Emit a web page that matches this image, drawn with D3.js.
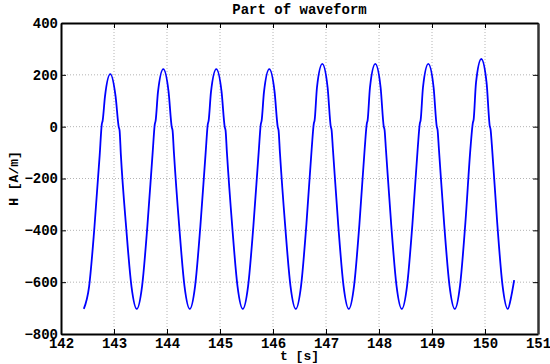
<!DOCTYPE html>
<html>
<head>
<meta charset="utf-8">
<script src="https://cdn.jsdelivr.net/npm/d3@7"></script>
<style>
  body { margin: 0; background: #fff; }
  svg { display: block; }
  text { font-family: "Liberation Mono", "DejaVu Sans Mono", monospace; font-weight: bold; fill: #000; }
</style>
</head>
<body>
<svg id="chart" width="550" height="364"></svg>
<script>
// samples, one line per period
const time = [
  142.43, 142.53, 142.63, 142.73, 142.77, 142.785, 142.83, 142.93, 143.03, 143.09, 143.105, 143.13, 143.23, 143.33,
  143.43, 143.53, 143.63, 143.73, 143.77, 143.785, 143.83, 143.93, 144.03, 144.09, 144.105, 144.13, 144.23, 144.33,
  144.43, 144.53, 144.63, 144.73, 144.77, 144.785, 144.83, 144.93, 145.03, 145.09, 145.105, 145.13, 145.23, 145.33,
  145.43, 145.53, 145.63, 145.73, 145.77, 145.785, 145.83, 145.93, 146.03, 146.09, 146.105, 146.13, 146.23, 146.33,
  146.43, 146.53, 146.63, 146.73, 146.77, 146.785, 146.83, 146.93, 147.03, 147.09, 147.105, 147.13, 147.23, 147.33,
  147.43, 147.53, 147.63, 147.73, 147.77, 147.785, 147.83, 147.93, 148.03, 148.09, 148.105, 148.13, 148.23, 148.33,
  148.43, 148.53, 148.63, 148.73, 148.77, 148.785, 148.83, 148.93, 149.03, 149.09, 149.105, 149.13, 149.23, 149.33,
  149.43, 149.53, 149.63, 149.73, 149.77, 149.785, 149.83, 149.93, 150.03, 150.09, 150.105, 150.13, 150.23, 150.33,
  150.43, 150.50, 150.55
];
const field = [
  -703, -617, -390, -110, 10, 22, 117, 203, 117, -2, -14, -110, -390, -617,
  -703, -615, -383,  -98, 10, 22, 134, 222, 134, -2, -14,  -98, -383, -615,
  -703, -615, -383,  -98, 10, 22, 134, 222, 134, -2, -14,  -98, -383, -615,
  -703, -615, -383,  -98, 10, 22, 134, 222, 134, -2, -14,  -98, -383, -615,
  -703, -613, -377,  -85, 12, 24, 152, 242, 152,  0, -12,  -85, -377, -613,
  -703, -613, -377,  -85, 12, 24, 152, 242, 152,  0, -12,  -85, -377, -613,
  -703, -613, -377,  -85, 12, 24, 152, 242, 152,  0, -12,  -85, -377, -613,
  -703, -611, -370,  -72, 14, 26, 169, 261, 169,  2, -10,  -72, -370, -611,
  -703, -650, -592
];
const xTicks = [142, 143, 144, 145, 146, 147, 148, 149, 150, 151];
const yTicks = [-800, -600, -400, -200, 0, 200, 400];

var svg = d3.select("#chart");
const margin = {top: 23, right: 12, bottom: 30, left: 61};
const width  = +svg.attr("width") - margin.left - margin.right;
const height = +svg.attr("height") - margin.top - margin.bottom;

var x = d3.scaleLinear().domain([142, 151]).range([0, width]);
var y = d3.scaleLinear().domain([-800, 400]).range([height, 0]);

var g = svg.append("g")
  .attr("transform", "translate(" + margin.left + "," + margin.top + ")");

// dotted grid
g.append("g").selectAll("line").data(xTicks.slice(1, -1)).join("line")
  .attr("x1", d => x(d)).attr("x2", d => x(d))
  .attr("y1", 0).attr("y2", height)
  .attr("stroke", "#b4b4b4").attr("stroke-dasharray", "1,2");
g.append("g").selectAll("line").data(yTicks.slice(1, -1)).join("line")
  .attr("x1", 0).attr("x2", width)
  .attr("y1", d => y(d)).attr("y2", d => y(d))
  .attr("stroke", "#b4b4b4").attr("stroke-dasharray", "1,2");

// waveform
var line = d3.line()
  .x((d, i) => x(time[i]))
  .y(d => y(d))
  .curve(d3.curveMonotoneX);

g.append("path")
  .datum(field)
  .attr("fill", "none")
  .attr("stroke", "#0000ff")
  .attr("stroke-width", 1.8)
  .attr("stroke-linejoin", "round")
  .attr("d", line);

// axes with inward ticks, matlab style
function fmt(d) { return d < 0 ? "\u2212" + Math.abs(d) : String(d); }

var xb = g.append("g").attr("transform", "translate(0," + height + ")")
  .call(d3.axisBottom(x).tickValues(xTicks).tickSizeInner(-5).tickSizeOuter(0).tickPadding(4).tickFormat(fmt));
var xt = g.append("g")
  .call(d3.axisTop(x).tickValues(xTicks).tickSizeInner(-5).tickSizeOuter(0).tickFormat(""));
var yl = g.append("g")
  .call(d3.axisLeft(y).tickValues(yTicks).tickSizeInner(-5).tickSizeOuter(0).tickPadding(3).tickFormat(fmt));
var yr = g.append("g").attr("transform", "translate(" + width + ",0)")
  .call(d3.axisRight(y).tickValues(yTicks).tickSizeInner(-5).tickSizeOuter(0).tickFormat(""));

[xb, xt, yl, yr].forEach(a => {
  a.selectAll(".domain").attr("stroke", "#000").attr("stroke-width", 2);
  a.selectAll(".tick line").attr("stroke", "#000");
  a.selectAll("text").style("font-size", "14px").attr("font-family", null);
});
yr.select(".domain").attr("stroke", "#333").attr("stroke-width", 2.5);

// labels
svg.append("text")
  .attr("x", margin.left + width / 2).attr("y", 14)
  .attr("text-anchor", "middle").style("font-size", "14px")
  .text("Part of waveform");
svg.append("text")
  .attr("x", margin.left + width / 2).attr("y", 360)
  .attr("text-anchor", "middle").style("font-size", "13px")
  .text("t [s]");
svg.append("text")
  .attr("transform", "translate(18," + (margin.top + height / 2) + ") rotate(-90)")
  .attr("text-anchor", "middle").style("font-size", "13px")
  .text("H [A/m]");
</script>
</body>
</html>
